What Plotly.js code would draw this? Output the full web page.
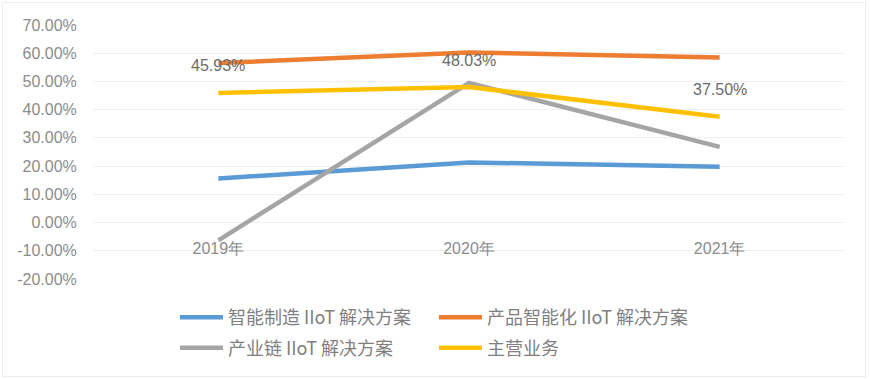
<!DOCTYPE html>
<html>
<head>
<meta charset="utf-8">
<script src="https://cdn.plot.ly/plotly-3.0.1.min.js"></script>
<style>
  html, body { margin: 0; padding: 0; background: #fff; }
  #wrap { position: relative; width: 870px; height: 379px; }
  #chart { width: 870px; height: 379px; }
  #frame { position: absolute; left: 2px; top: 2px; width: 862px; height: 373px;
           border: 1px solid #eeeeee; pointer-events: none; }
</style>
</head>
<body>
<div id="wrap"><div id="chart"></div><div id="frame"></div></div>
<script>
const years = ['2019年', '2020年', '2021年'];
const seriesNames = ['智能制造 IIoT 解决方案', '产品智能化 IIoT 解决方案', '产业链 IIoT 解决方案', '主营业务'];
const smartManufacturing = [0.156, 0.213, 0.198];
const productIntelligence = [0.565, 0.603, 0.585];
const industryChain = [-0.063, 0.495, 0.268];
const mainBusiness = [0.4593, 0.4803, 0.3750];
const mainBusinessLabels = ['45.93%', '48.03%', '37.50%'];
const yTickVals = [-0.2, -0.1, 0, 0.1, 0.2, 0.3, 0.4, 0.5, 0.6, 0.7];
const yTickText = ['-20.00%', '-10.00%', '0.00%', '10.00%', '20.00%', '30.00%', '40.00%', '50.00%', '60.00%', '70.00%'];

const colors = ['#5b9bd5', '#ed7d31', '#a5a5a5', '#ffc000'];
const allValues = [smartManufacturing, productIntelligence, industryChain, mainBusiness];
const legendIds = ['legend', 'legend', 'legend2', 'legend2'];

const tickFont = { family: '"Liberation Sans", Arial, sans-serif', size: 16, color: '#8c8c8c' };

const traces = allValues.map((vals, i) => ({
  x: [0, 1, 2],
  y: vals,
  type: 'scatter',
  mode: 'lines',
  name: seriesNames[i],
  legend: legendIds[i],
  line: { color: colors[i], width: 4.5 },
  hoverinfo: 'skip'
}));

const annotations = mainBusiness.map((v, i) => ({
  x: i, y: v, xref: 'x', yref: 'y',
  text: mainBusinessLabels[i],
  showarrow: false, yshift: 27,
  font: { family: tickFont.family, size: 16, color: '#6b6b6b' }
}));

const legendFont = { family: '"Noto Sans CJK SC", "Noto Sans", sans-serif', size: 18, color: '#7f7f7f' };

const layout = {
  width: 870, height: 379,
  margin: { l: 93, r: 25, t: 24.5, b: 98, pad: 0 },
  paper_bgcolor: '#ffffff', plot_bgcolor: '#ffffff',
  showlegend: true,
  xaxis: {
    range: [-0.5, 2.5],
    tickvals: [0, 1, 2], ticktext: years,
    anchor: 'free', position: 2 / 9,
    showgrid: false, zeroline: false, showline: false,
    ticks: 'outside', ticklen: 11, tickcolor: 'rgba(0,0,0,0)',
    tickfont: tickFont, fixedrange: true
  },
  yaxis: {
    range: [-0.2, 0.7],
    tickvals: yTickVals, ticktext: yTickText,
    showgrid: true, gridcolor: '#efefef', gridwidth: 1.2,
    zeroline: false, showline: false,
    ticks: 'outside', ticklen: 12, tickcolor: 'rgba(0,0,0,0)',
    tickfont: tickFont, fixedrange: true
  },
  legend: {
    orientation: 'h', x: 0.109, xanchor: 'left', y: -0.152, yanchor: 'middle',
    font: legendFont, entrywidth: 201, itemwidth: 43, traceorder: 'normal',
    bgcolor: 'rgba(0,0,0,0)'
  },
  legend2: {
    orientation: 'h', x: 0.109, xanchor: 'left', y: -0.272, yanchor: 'middle',
    font: legendFont, entrywidth: 201, itemwidth: 43, traceorder: 'normal',
    bgcolor: 'rgba(0,0,0,0)'
  },
  annotations: annotations
};

Plotly.newPlot('chart', traces, layout, { displayModeBar: false, staticPlot: true });
</script>
</body>
</html>
